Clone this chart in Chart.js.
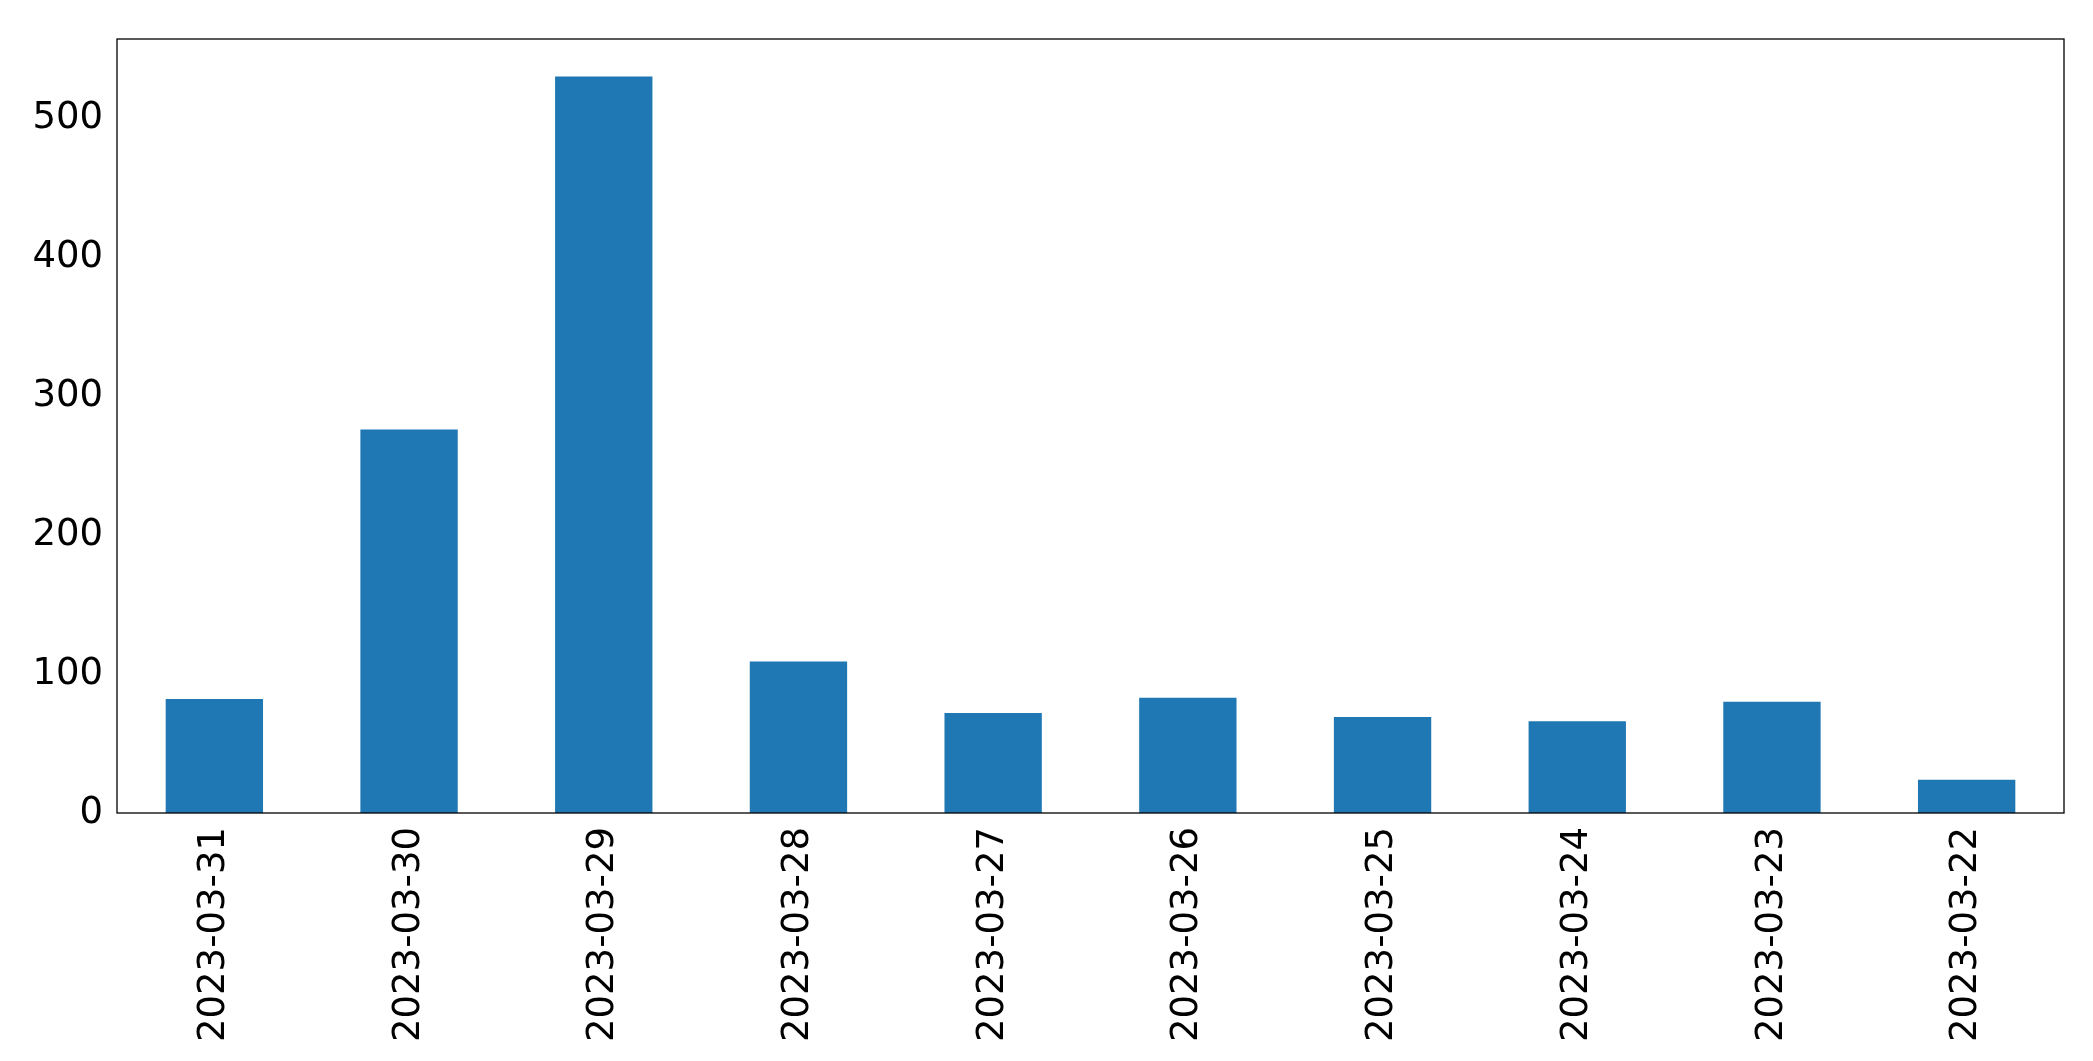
<!DOCTYPE html>
<html>
<head>
<meta charset="utf-8">
<script src="https://cdn.jsdelivr.net/npm/chart.js@4"></script>
<style>
  html, body { margin: 0; padding: 0; background: #fff; }
  #wrap { width: 2093px; height: 1061px; }
</style>
</head>
<body>
<div id="wrap"><canvas id="myChart"></canvas></div>
<script>
const dates = [
    '2023-03-31', '2023-03-30', '2023-03-29', '2023-03-28', '2023-03-27',
    '2023-03-26', '2023-03-25', '2023-03-24', '2023-03-23', '2023-03-22'
];
const counts = [82, 276, 530, 109, 72, 83, 69, 66, 80, 24];
const yTicks = [0, 100, 200, 300, 400, 500];

const frame = {
    id: 'frame',
    afterDraw(chart) {
        const a = chart.chartArea;
        const c = chart.ctx;
        c.save();
        c.strokeStyle = '#000';
        c.lineWidth = 1.3;
        c.strokeRect(a.left, a.top, a.right - a.left, a.bottom - a.top);
        c.restore();
    }
};

Chart.defaults.font.family = 'DejaVu Sans';
Chart.defaults.color = '#000';

new Chart(document.getElementById('myChart'), {
    type: 'bar',
    data: {
        labels: dates,
        datasets: [{
            data: counts,
            backgroundColor: '#1f77b4',
            categoryPercentage: 1,
            barPercentage: 0.5
        }]
    },
    options: {
        responsive: true,
        maintainAspectRatio: false,
        animation: false,
        layout: { padding: { top: 39, right: 29, left: 0, bottom: 0 } },
        plugins: { legend: { display: false }, tooltip: { enabled: false } },
        scales: {
            x: {
                grid: { display: false, drawTicks: true, tickLength: 8, tickColor: '#000' },
                border: { display: false },
                ticks: { font: { size: 37 }, maxRotation: 90, minRotation: 90, padding: 6 },
                afterFit(s) { s.height = 248; }
            },
            y: {
                min: 0,
                max: 557,
                afterBuildTicks(s) { s.ticks = yTicks.map(v => ({ value: v })); },
                grid: { display: false, drawTicks: true, tickLength: 8, tickColor: '#000' },
                border: { display: false },
                ticks: { font: { size: 37 }, padding: 6 },
                afterFit(s) { s.width = 117; }
            }
        }
    },
    plugins: [frame]
});
</script>
</body>
</html>
